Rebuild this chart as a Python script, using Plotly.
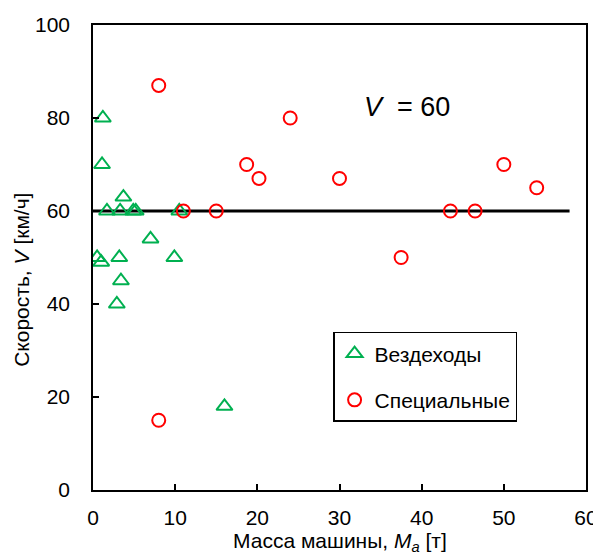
import plotly.graph_objects as go

# Вездеходы (green triangles)
veh_mass = [1.2, 1.1, 3.7, 1.7, 3.3, 4.9, 5.2, 10.5, 7.0, 0.5, 1.0, 3.2, 9.9, 3.4, 2.9, 16.0]
veh_speed = [80, 70, 63, 60, 60, 60, 60, 60, 54, 50, 49, 50, 50, 45, 40, 18]

# Специальные (red circles)
spec_mass = [8.0, 24.0, 18.7, 20.2, 30.0, 50.0, 54.0, 11.0, 15.0, 43.5, 46.5, 37.5, 8.0]
spec_speed = [87, 80, 70, 67, 67, 70, 65, 60, 60, 60, 60, 50, 15]

# Reference line V = 60
line_mass = [0, 58]
line_speed = [60, 60]

x_ticks = [0, 10, 20, 30, 40, 50, 60]
y_ticks = [0, 20, 40, 60, 80, 100]

FONT = "Liberation Sans, Arial, sans-serif"

fig = go.Figure()
fig.add_trace(go.Scatter(x=line_mass, y=line_speed, mode="lines",
                         line=dict(color="black", width=3), showlegend=False,
                         hoverinfo="skip"))
fig.add_trace(go.Scatter(x=veh_mass, y=veh_speed, mode="markers", name="Вездеходы",
                         legendgroup="a",
                         marker=dict(symbol="triangle-up-open", size=14, color="#00B050",
                                     line=dict(width=2, color="#00B050"))))
fig.add_trace(go.Scatter(x=spec_mass, y=spec_speed, mode="markers", name="Специальные",
                         legendgroup="b",
                         marker=dict(symbol="circle-open", size=13, color="#FF0000",
                                     line=dict(width=2, color="#FF0000"))))

fig.add_annotation(x=38.2, y=82.4, xref="x", yref="y", text="<i>V</i>  = 60",
                   showarrow=False, font=dict(family=FONT, size=27, color="black"))

# Axis titles
fig.add_annotation(x=-0.144, y=0.452, xref="paper", yref="paper",
                   text="Скорость, <i>V</i> [км/ч]", textangle=-90, showarrow=False,
                   xanchor="center", yanchor="middle",
                   font=dict(family=FONT, size=21, color="black"))
fig.add_annotation(x=0.5, y=-0.112, xref="paper", yref="paper",
                   text="Масса машины, <i>M<sub>a</sub></i> [т]", showarrow=False,
                   xanchor="center", yanchor="middle",
                   font=dict(family=FONT, size=21, color="black"))

# The page body adds an 8 px margin, so the figure is 8 px smaller on each axis
fig.update_layout(
    width=593, height=548,
    margin=dict(l=85, r=15, t=17, b=66),
    paper_bgcolor="white", plot_bgcolor="white",
    font=dict(family=FONT, size=21, color="black"),
    legend=dict(x=0.487, y=0.34, xanchor="left", yanchor="top",
                bordercolor="black", borderwidth=1.5, bgcolor="white",
                font=dict(family=FONT, size=21), tracegroupgap=16,
                itemwidth=30),
    xaxis=dict(range=[0, 60], tickvals=x_ticks, ticks="inside", ticklen=6,
               tickwidth=1.5, tickcolor="black", showline=True, linecolor="black",
               linewidth=1.5, mirror=True, showgrid=False, zeroline=False,
               ticklabelstandoff=8, automargin=False,
               tickfont=dict(family=FONT, size=21)),
    yaxis=dict(range=[0, 100], tickvals=y_ticks, ticks="inside", ticklen=6,
               tickwidth=1.5, tickcolor="black", showline=True, linecolor="black",
               linewidth=1.5, mirror=True, showgrid=False, zeroline=False,
               ticklabelstandoff=17, automargin=False,
               tickfont=dict(family=FONT, size=21)),
)

fig.write_html("out.html")
